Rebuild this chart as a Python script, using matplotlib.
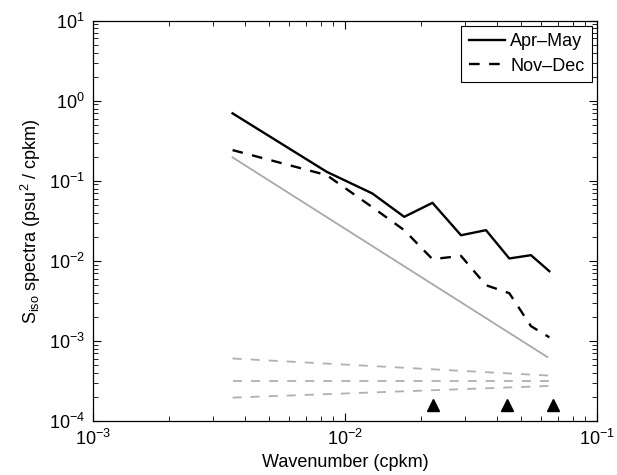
import matplotlib
matplotlib.use("Agg")
import matplotlib.pyplot as plt

plt.rcParams['font.family'] = ['Liberation Sans', 'DejaVu Sans']
plt.rcParams['mathtext.fontset'] = 'custom'
plt.rcParams['mathtext.rm'] = 'Liberation Sans'
plt.rcParams['mathtext.it'] = 'Liberation Sans:italic'
plt.rcParams['mathtext.default'] = 'regular'

# Wavenumbers (cpkm)
k = [0.00358, 0.00846, 0.01283, 0.01718, 0.02224, 0.02886, 0.03626, 0.04487, 0.0547, 0.0647]
# Spectra
apr_may = [0.696, 0.1296, 0.0696, 0.0355, 0.0531, 0.0209, 0.0242, 0.01072, 0.01178, 0.00743]
nov_dec = [0.242, 0.1178, 0.0469, 0.0242, 0.0105, 0.01155, 0.00497, 0.00395, 0.00153, 0.00111]

# Reference slope line (grey)
ref_k = [0.00358, 0.0635]
ref_s = [0.196, 0.00063]

# Grey dashed lines (endpoints)
ci_k = [0.00358, 0.0647]
ci_upper = [0.000603, 0.000369]
ci_mid = [0.000316, 0.000316]
ci_lower = [0.000196, 0.000274]

# Triangles
tri_k = [0.02228, 0.0438, 0.0671]
tri_s = [0.00016, 0.00016, 0.00016]

fig = plt.figure(figsize=(6.17, 4.75), dpi=100)
ax = fig.add_axes([93/617, 1 - 421/475, (597-93)/617, (421-20.7)/475])

ax.plot(ref_k, ref_s, color='#a8a8a8', lw=1.3)
for arr in (ci_upper, ci_mid, ci_lower):
    ax.plot(ci_k, arr, color='#b0b0b0', lw=1.3, dashes=(5, 5))
l1, = ax.plot(k, apr_may, color='black', lw=1.7, label='Apr\u2013May')
l2, = ax.plot(k, nov_dec, color='black', lw=1.7, dashes=(4.5, 4), label='Nov\u2013Dec')
ax.plot(tri_k, tri_s, linestyle='none', marker='^', color='black', markersize=8)

ax.set_xscale('log')
ax.set_yscale('log')
ax.set_xlim(1e-3, 1e-1)
ax.set_ylim(1e-4, 1e1)

ax.tick_params(which='both', direction='in', top=True, right=True, labelsize=13)
ax.tick_params(which='major', length=6, width=0.8)
ax.tick_params(which='minor', length=3.5, width=0.6)
ax.tick_params(axis='x', pad=6)
ax.tick_params(axis='y', pad=6)
for sp in ax.spines.values():
    sp.set_linewidth(0.9)

ax.set_xlabel('Wavenumber (cpkm)', fontsize=13, labelpad=3)
ax.set_ylabel(r'S$_{\rm iso}$ spectra (psu$^2$ / cpkm)', fontsize=13, labelpad=4)

leg = ax.legend(handles=[l1, l2], loc='upper right', fontsize=13, fancybox=False,
                edgecolor='black', framealpha=1, handlelength=2.0, handletextpad=0.3,
                borderaxespad=0.3, borderpad=0.4, labelspacing=0.4)
leg.get_frame().set_linewidth(0.8)

fig.savefig('out.png', dpi=100)
